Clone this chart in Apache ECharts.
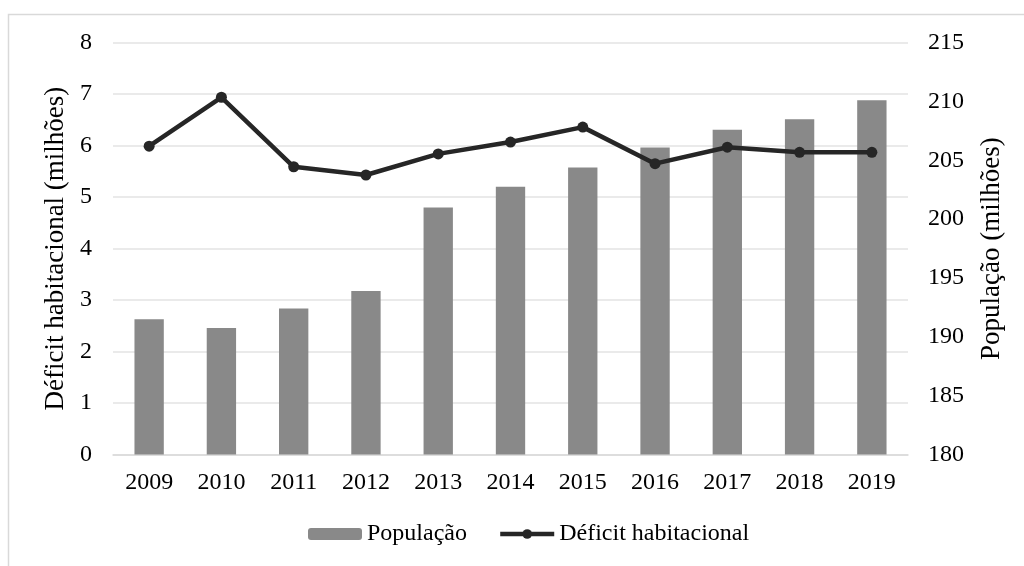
<!DOCTYPE html>
<html>
<head>
<meta charset="utf-8">
<script src="https://cdn.jsdelivr.net/npm/echarts@6/dist/echarts.min.js"></script>
<style>
  html, body { margin: 0; padding: 0; background: #ffffff; }
  #chart { width: 1024px; height: 566px; }
</style>
</head>
<body>
<div id="chart"></div>
<script>
// Anos
const years = ['2009', '2010', '2011', '2012', '2013', '2014', '2015', '2016', '2017', '2018', '2019'];
// População (milhões) — eixo direito
const populacao = [191.5, 190.75, 192.4, 193.9, 201.0, 202.75, 204.4, 206.1, 207.6, 208.5, 210.1];
// Déficit habitacional (milhões) — eixo esquerdo
const deficit = [5.99, 6.94, 5.59, 5.43, 5.84, 6.07, 6.36, 5.65, 5.97, 5.87, 5.87];

const FONT = '"Liberation Serif", "Times New Roman", serif';
const TXT = { fontFamily: FONT, fontSize: 24, color: '#000000' };
const TITLE = { fontFamily: FONT, fontSize: 27, color: '#000000' };

const chart = echarts.init(document.getElementById('chart'), null, { renderer: 'canvas' });

chart.setOption({
  backgroundColor: '#ffffff',
  animation: false,
  graphic: [{
    type: 'rect',
    shape: { x: 8.5, y: 14.5, width: 1100, height: 700 },
    style: { fill: 'none', stroke: '#d9d9d9', lineWidth: 1.5 },
    silent: true
  }],
  grid: { left: 113, right: 116, top: 42.7, bottom: 111.5 },
  legend: {
    bottom: 15,
    left: 303,
    itemWidth: 54,
    itemHeight: 12,
    itemGap: 31,
    textStyle: TXT,
    lineStyle: { width: 4.5 },
    data: ['População', 'Déficit habitacional']
  },
  xAxis: {
    type: 'category',
    data: years,
    axisLine: { lineStyle: { color: '#d9d9d9', width: 1.5 } },
    axisTick: { show: false },
    axisLabel: Object.assign({ margin: 16 }, TXT)
  },
  yAxis: [
    {
      type: 'value',
      min: 0, max: 8, interval: 1,
      name: 'Déficit habitacional (milhões)',
      nameLocation: 'middle',
      nameGap: 41,
      nameTextStyle: TITLE,
      axisLine: { show: false },
      axisTick: { show: false },
      axisLabel: Object.assign({ margin: 21 }, TXT),
      splitLine: { lineStyle: { color: '#e3e3e3', width: 1.5 } }
    },
    {
      type: 'value',
      min: 180, max: 215, interval: 5,
      name: 'População (milhões)',
      nameLocation: 'middle',
      nameGap: 70,
      nameTextStyle: TITLE,
      axisLine: { show: false },
      axisTick: { show: false },
      axisLabel: Object.assign({ margin: 20 }, TXT),
      splitLine: { show: false }
    }
  ],
  series: [
    {
      name: 'População',
      type: 'bar',
      yAxisIndex: 1,
      data: populacao,
      barWidth: '40.6%',
      itemStyle: { color: '#898989' },
      z: 2
    },
    {
      name: 'Déficit habitacional',
      type: 'line',
      yAxisIndex: 0,
      data: deficit,
      symbol: 'circle',
      symbolSize: 11,
      lineStyle: { color: '#262626', width: 4.5 },
      itemStyle: { color: '#262626' },
      z: 3
    }
  ]
});
</script>
</body>
</html>
